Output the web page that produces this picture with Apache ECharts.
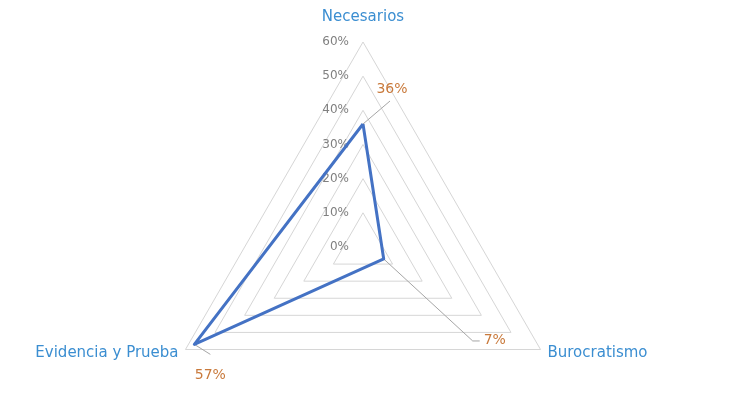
<!DOCTYPE html>
<html>
<head>
<meta charset="utf-8">
<script src="https://cdn.jsdelivr.net/npm/echarts@6/dist/echarts.min.js"></script>
<style>
html,body{margin:0;padding:0;background:#fff;}
#main{width:730px;height:396px;}
</style>
</head>
<body>
<div id="main"></div>
<script>
// Data (ECharts radar runs counter-clockwise, so left vertex comes second)
const categories = ['Necesarios', 'Evidencia y Prueba', 'Burocratismo'];
const values = [36, 57, 7];
const axisMax = 60;
const tickLabels = ['0%', '10%', '20%', '30%', '40%', '50%', '60%'];

// Styling for data labels (offsets relative to each data point)
const leaderStyle = [
  { pts: [[27, -23]], text: [29, -35], align: 'center' },
  { pts: [[16, 10]], text: [16, 31], align: 'center' },
  { pts: [[89, 82], [96, 82]], text: [100, 81], align: 'left' }
];

const chart = echarts.init(document.getElementById('main'), null, { renderer: 'canvas' });
const FONT = '"DejaVu Sans", "Noto Sans", sans-serif';

const option = {
  animation: false,
  backgroundColor: '#ffffff',
  radar: {
    center: [363, 247],
    radius: 205,
    startAngle: 90,
    shape: 'polygon',
    splitNumber: 6,
    nameGap: 8,
    axisName: {
      color: '#3b8ed1',
      fontSize: 15,
      fontFamily: FONT,
      padding: [4, 0, 0, 0]
    },
    indicator: categories.map((c, i) => {
      const ind = { name: c, min: 0, max: axisMax };
      if (i === 0) {
        ind.nameGap = 17;
        ind.axisLabel = {
          show: true,
          color: '#808080',
          fontSize: 12,
          fontFamily: FONT,
          margin: 14,
          formatter: (v) => tickLabels[Math.round(v / 10)] || ''
        };
      }
      return ind;
    }),
    axisLine: { show: false },
    axisTick: { show: false },
    axisLabel: { show: false },
    splitLine: { lineStyle: { color: '#d6d6d6', width: 1 } },
    splitArea: { show: false }
  },
  series: [{
    type: 'radar',
    symbol: 'none',
    lineStyle: { color: '#4472c4', width: 3 },
    data: [{ value: values }]
  }]
};
chart.setOption(option);

// Data labels with leader lines positioned through the radar coordinate system
function pointOf(i) {
  try {
    const cs = chart.getModel().getComponent('radar').coordinateSystem;
    return cs.dataToPoint(values[i], i);
  } catch (e) {
    const ang = Math.PI / 2 + i * 2 * Math.PI / categories.length;
    const r = values[i] / axisMax * 205;
    return [363 + r * Math.cos(ang), 247 - r * Math.sin(ang)];
  }
}
const elements = [];
values.forEach((v, i) => {
  const p = pointOf(i);
  const st = leaderStyle[i];
  const pts = [p].concat(st.pts.map(o => [p[0] + o[0], p[1] + o[1]]));
  elements.push({
    type: 'polyline',
    shape: { points: pts },
    style: { stroke: '#a6a6a6', lineWidth: 1, fill: null },
    z: 1
  });
  elements.push({
    type: 'text',
    x: p[0] + st.text[0],
    y: p[1] + st.text[1],
    style: {
      text: v + '%',
      fill: '#c97a3c',
      font: '14px ' + FONT,
      align: st.align,
      verticalAlign: 'middle'
    },
    z: 10
  });
});
chart.setOption({ graphic: { elements: elements } });
</script>
</body>
</html>
